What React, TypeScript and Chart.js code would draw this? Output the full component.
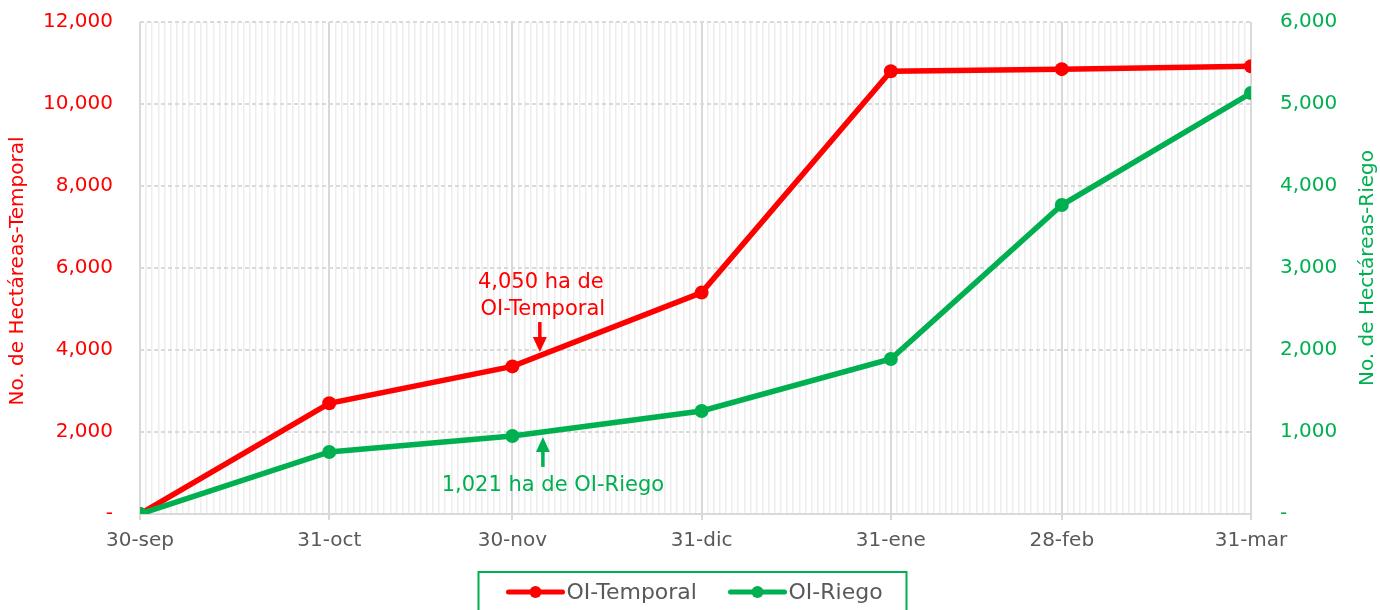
import React, { useEffect, useRef } from "react";
import { Chart, registerables } from "chart.js";

Chart.register(...registerables);

// Days since 30-sep for each month-end point
const categoryDays = [0, 31, 61, 92, 123, 151, 182];
const categoryLabels = ["30-sep", "31-oct", "30-nov", "31-dic", "31-ene", "28-feb", "31-mar"];
const temporalValues = [0, 2700, 3600, 5400, 10800, 10850, 10920];
const riegoValues = [0, 756, 951, 1256, 1890, 3768, 5134];
const leftTicks = [0, 2000, 4000, 6000, 8000, 10000, 12000];
const rightTicks = [0, 1000, 2000, 3000, 4000, 5000, 6000];
const seriesNames = ["OI-Temporal", "OI-Riego"];
// annotations: day, value at arrow tip, text lines
const annotationDays = [65.5, 66];
const annotationValues = [3950, 940];
const annotationTexts = [["4,050 ha de", "OI-Temporal"], ["1,021 ha de OI-Riego"]];

const RED = "#FF0000";
const GREEN = "#00B050";
const GREY = "#595959";
const FONT = "'DejaVu Sans', sans-serif";

const fmt = (v: number) => (v === 0 ? "-" : v.toLocaleString("en-US"));

export default function App() {
  const ref = useRef<HTMLCanvasElement | null>(null);

  useEffect(() => {
    document.body.style.margin = "0";
    const canvas = ref.current!;
    const allDays: number[] = [];
    for (let d = categoryDays[0]; d <= categoryDays[categoryDays.length - 1]; d++) allDays.push(d);

    const extras = {
      id: "extras",
      afterDraw(chart: any) {
        const ctx = chart.ctx as CanvasRenderingContext2D;
        const x = chart.scales.x;
        const yL = chart.scales.y;
        const yR = chart.scales.y1;
        const ca = chart.chartArea;
        ctx.save();
        // axis titles
        ctx.font = `20px ${FONT}`;
        ctx.textAlign = "center";
        ctx.textBaseline = "middle";
        const cy = (ca.top + ca.bottom) / 2;
        ctx.save();
        ctx.translate(18, cy + 3);
        ctx.rotate(-Math.PI / 2);
        ctx.fillStyle = RED;
        ctx.fillText("No. de Hectáreas-Temporal", 0, 0);
        ctx.restore();
        ctx.save();
        ctx.translate(1368, cy);
        ctx.rotate(-Math.PI / 2);
        ctx.fillStyle = GREEN;
        ctx.fillText("No. de Hectáreas-Riego", 0, 0);
        ctx.restore();

        // annotations
        const drawArrow = (ax: number, tipY: number, dir: number, color: string) => {
          const tailY = tipY - dir * 30;
          const headY = tipY - dir * 15;
          ctx.strokeStyle = color;
          ctx.fillStyle = color;
          ctx.lineWidth = 3.5;
          ctx.beginPath();
          ctx.moveTo(ax, tailY);
          ctx.lineTo(ax, headY);
          ctx.stroke();
          ctx.beginPath();
          ctx.moveTo(ax - 7, headY);
          ctx.lineTo(ax + 7, headY);
          ctx.lineTo(ax, tipY);
          ctx.closePath();
          ctx.fill();
        };
        ctx.font = `21px ${FONT}`;
        // red
        const rx = x.getPixelForValue(annotationDays[0]);
        const ry = yL.getPixelForValue(annotationValues[0]);
        drawArrow(rx, ry, 1, RED);
        ctx.fillStyle = RED;
        ctx.fillText(annotationTexts[0][0], rx + 1, ry - 70);
        ctx.fillText(annotationTexts[0][1], rx + 3, ry - 43);
        // green
        const gx = x.getPixelForValue(annotationDays[1]);
        const gy = yR.getPixelForValue(annotationValues[1]);
        drawArrow(gx, gy, -1, GREEN);
        ctx.fillStyle = GREEN;
        ctx.fillText(annotationTexts[1][0], gx + 10, gy + 49);

        // legend
        const lx0 = (ca.left + ca.right) / 2 - 217;
        const ly0 = 572;
        ctx.strokeStyle = GREEN;
        ctx.lineWidth = 2;
        ctx.strokeRect(lx0, ly0, 428, 50);
        ctx.font = `22px ${FONT}`;
        ctx.textAlign = "left";
        const items = [
          { color: RED, name: seriesNames[0], x: lx0 + 30 },
          { color: GREEN, name: seriesNames[1], x: lx0 + 252 },
        ];
        const iy = ly0 + 20;
        for (const it of items) {
          ctx.strokeStyle = it.color;
          ctx.fillStyle = it.color;
          ctx.lineWidth = 5;
          ctx.lineCap = "round";
          ctx.beginPath();
          ctx.moveTo(it.x, iy);
          ctx.lineTo(it.x + 54, iy);
          ctx.stroke();
          ctx.beginPath();
          ctx.arc(it.x + 27, iy, 6, 0, Math.PI * 2);
          ctx.fill();
          ctx.fillStyle = GREY;
          ctx.fillText(it.name, it.x + 58, iy + 1);
        }
        ctx.restore();
      },
    };

    const chart = new Chart(canvas, {
      type: "line",
      data: {
        datasets: [
          {
            label: seriesNames[0],
            data: categoryDays.map((d, i) => ({ x: d, y: temporalValues[i] })),
            borderColor: RED,
            backgroundColor: RED,
            borderWidth: 5.5,
            pointRadius: 7,
            pointHoverRadius: 7,
            pointBackgroundColor: RED,
            pointBorderWidth: 0,
            tension: 0,
            yAxisID: "y",
            order: 1,
          },
          {
            label: seriesNames[1],
            data: categoryDays.map((d, i) => ({ x: d, y: riegoValues[i] })),
            borderColor: GREEN,
            backgroundColor: GREEN,
            borderWidth: 5.5,
            pointRadius: 7,
            pointHoverRadius: 7,
            pointBackgroundColor: GREEN,
            pointBorderWidth: 0,
            tension: 0,
            yAxisID: "y1",
            order: 0,
          },
        ],
      },
      options: {
        animation: false,
        responsive: false,
        maintainAspectRatio: false,
        layout: { padding: { top: 22, bottom: 0, left: 0, right: 0 } },
        plugins: { legend: { display: false }, tooltip: { enabled: false } },
        scales: {
          x: {
            type: "linear",
            min: categoryDays[0],
            max: categoryDays[categoryDays.length - 1],
            afterBuildTicks: (s: any) => {
              s.ticks = allDays.map((v) => ({ value: v }));
            },
            afterFit: (s: any) => {
              s.height = 96;
            },
            ticks: {
              autoSkip: false,
              maxRotation: 0,
              minRotation: 0,
              padding: 9,
              color: GREY,
              font: { family: FONT, size: 20 },
              callback: (v: any) => {
                const i = categoryDays.indexOf(Number(v));
                return i >= 0 ? categoryLabels[i] : "";
              },
            },
            grid: {
              color: (c: any) => (categoryDays.includes(c.tick?.value) ? "#d9d9d9" : "#ededed"),
              tickColor: (c: any) => (categoryDays.includes(c.tick?.value) ? "#d9d9d9" : "rgba(0,0,0,0)"),
              lineWidth: (c: any) => (categoryDays.includes(c.tick?.value) ? 2 : 1.5),
              tickLength: 6,
            },
            border: { color: "#d9d9d9", width: 2 },
          },
          y: {
            position: "left",
            min: 0,
            max: 12000,
            afterBuildTicks: (s: any) => {
              s.ticks = leftTicks.map((v) => ({ value: v }));
            },
            afterFit: (s: any) => {
              s.width = 140;
            },
            ticks: {
              padding: 3,
              color: RED,
              font: { family: FONT, size: 20 },
              callback: (v: any) => fmt(Number(v)),
            },
            grid: { color: "#dadada", lineWidth: 2, drawTicks: true, tickLength: 24, tickColor: "rgba(0,0,0,0)" },
            border: { display: false, dash: [4, 3] },
          },
          y1: {
            position: "right",
            min: 0,
            max: 6000,
            afterBuildTicks: (s: any) => {
              s.ticks = rightTicks.map((v) => ({ value: v }));
            },
            afterFit: (s: any) => {
              s.width = 129;
            },
            ticks: {
              padding: 3,
              color: GREEN,
              font: { family: FONT, size: 20 },
              callback: (v: any) => fmt(Number(v)),
            },
            grid: { drawOnChartArea: false, drawTicks: true, tickLength: 26, tickColor: "rgba(0,0,0,0)" },
            border: { display: false },
          },
        },
      },
      plugins: [extras],
    } as any);

    return () => chart.destroy();
  }, []);

  return (
    <div style={{ position: "absolute", left: 0, top: 0, width: 1380, height: 610 }}>
      <canvas ref={ref} width={1380} height={610} style={{ width: 1380, height: 610 }} />
    </div>
  );
}
